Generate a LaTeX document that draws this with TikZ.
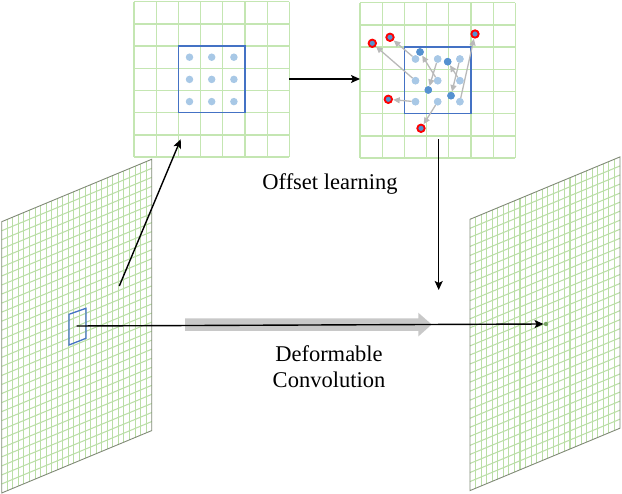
\documentclass[tikz,border=0pt]{standalone}
\usepackage{fontspec}
\setmainfont{Liberation Serif}
\usetikzlibrary{arrows.meta}
\definecolor{gridg}{RGB}{196,230,178}
\definecolor{pgridg}{RGB}{186,222,166}
\definecolor{planeb}{RGB}{128,138,118}
\definecolor{bsq}{RGB}{68,114,196}
\definecolor{ldot}{RGB}{168,200,230}
\definecolor{ddot}{RGB}{85,145,208}
\definecolor{garr}{RGB}{185,185,185}
\definecolor{fatg}{RGB}{200,200,200}
\definecolor{gdot}{RGB}{120,165,100}
\tikzset{
  gridline/.style={draw=pgridg, line width=1.05pt},
  topgridline/.style={draw=gridg, line width=1.3pt},
  planeedge/.style={draw=planeb, line width=0.9pt},
  bluesq/.style={draw=bsq, line width=1.3pt},
  lightdot/.style={circle, fill=ldot, inner sep=0pt, minimum size=7.5pt},
  darkdot/.style={circle, fill=ddot, inner sep=0pt, minimum size=7.5pt},
  reddot/.style={circle, fill=ddot, draw=red, line width=1.3pt, inner sep=0pt, minimum size=8pt},
  offarrow/.style={draw=garr, line width=1.3pt, -{Triangle[length=6.5pt,width=6pt]}, shorten >=0.3pt},
  blackarrow/.style={draw=black, line width=1.4pt, -{Stealth[length=9pt,width=8pt,inset=2pt]}},
  lbl/.style={font=\fontsize{22.5}{27}\selectfont, inner sep=0pt, anchor=base}
}
\newcommand{\dcplane}[2]{%
  \begin{scope}[shift={(#1,#2)}]
    \foreach \i in {1,...,26} \draw[gridline] ({\i*150/27},{-\i*62.4/27}) -- ++(0,271.3);
    \foreach \j in {1,...,29} \draw[gridline] (0,{\j*271.3/30}) -- ++(150,-62.4);
    \draw[planeedge] (0,0) -- (150,-62.4) -- (150,208.9) -- (0,271.3) -- cycle;
  \end{scope}}
\newcommand{\topgrid}[2]{%
  \foreach \k in {0,...,7} {
    \draw[topgridline] ({#1+\k*22.2},#2) -- ({#1+\k*22.2},{#2+155.4});
    \draw[topgridline] (#1,{#2+\k*22.2}) -- ({#1+155.4},{#2+\k*22.2});
  }}
\begin{document}
\begin{tikzpicture}[x=1pt,y=-1pt]
\useasboundingbox (0,0) rectangle (622,494);

% feature planes
\dcplane{1.7}{221.7}
\dcplane{470}{219.3}

% top grids
\topgrid{134}{1.7}
\topgrid{360}{2.7}
\draw[bluesq] (178.4,46.1) rectangle (245,112.7);
\draw[bluesq] (404.4,47.1) rectangle (471,113.7);

% regular sampling grid
\foreach \c/\x in {1/189.5,2/211.7,3/233.9}
  \foreach \r/\y in {1/57.2,2/79.4,3/101.6}
    \node[lightdot] (p\r\c) at (\x,\y) {};

% deformed sampling: original positions
\foreach \c/\x in {1/415.5,2/437.7,3/459.9}
  \foreach \r/\y in {1/59,2/80.7,3/101.7}
    \node[lightdot] (q\r\c) at (\x,\y) {};

% offset positions
\node[darkdot] (d1) at (420,52) {};
\node[darkdot] (d2) at (447.7,61.7) {};
\node[darkdot] (d3) at (428.3,90) {};
\node[darkdot] (d4) at (451,95.7) {};
\node[reddot] (r1) at (390,37.3) {};
\node[reddot] (r2) at (372.3,43.3) {};
\node[reddot] (r3) at (388.3,99.3) {};
\node[reddot] (r4) at (421,128.3) {};
\node[reddot] (r5) at (475,34) {};

\draw[offarrow] (q11) -- (r1);
\draw[offarrow] (q21) -- (r2);
\draw[offarrow] (q31) -- (r3);
\draw[offarrow] (q32) -- (r4);
\draw[offarrow] (q33) -- (r5);
\draw[offarrow] (q12) -- (d3);
\draw[offarrow] (q22) -- (d1);
\draw[offarrow] (q13) -- (d4);
\draw[offarrow] (q23) -- (d2);

% redraw dots on top
\foreach \n in {q11,q12,q13,q21,q22,q23,q31,q32,q33}
  \fill[ldot] (\n) circle (3.75pt);
\foreach \n in {d1,d2,d3,d4}
  \fill[ddot] (\n) circle (3.75pt);
\foreach \n in {r1,r2,r3,r4,r5}
  \filldraw[fill=ddot, draw=red, line width=1.3pt] (\n) circle (3.4pt);

% kernel on input plane
\draw[bsq, line width=1.3pt] (69,314.3) -- (86,308.3) -- (86,338.3) -- (69,345) -- cycle;

% wide grey arrow
\fill[fatg] (185,318.3) -- (418.3,318.3) -- (418.3,312.7) -- (431.7,324.5)
  -- (418.3,336.5) -- (418.3,331) -- (185,331) -- cycle;

% connectors
\coordinate (g1e) at (289.4,79);
\coordinate (g2w) at (360,79);
\coordinate (g2s) at (438.7,139.5);
\coordinate (dn) at (438.7,290);
\coordinate (inA) at (119.3,286);
\coordinate (g1s) at (180.7,139.3);
\coordinate (kc) at (76.7,326);
\node[circle, fill=gdot, inner sep=0pt, minimum size=4.5pt] (od) at (546,324) {};

\draw[blackarrow] (g1e) -- (g2w);
\draw[blackarrow] (g2s) -- (dn);
\draw[blackarrow] (inA) -- (g1s);
\draw[blackarrow] (kc) -- (od.west);

% labels
\node[lbl] (offl) at (330,190) {Offset learning};
\node[lbl] (defl) at (329,361.7) {Deformable};
\node[lbl] (conl) at (329,388) {Convolution};
\end{tikzpicture}
\end{document}
